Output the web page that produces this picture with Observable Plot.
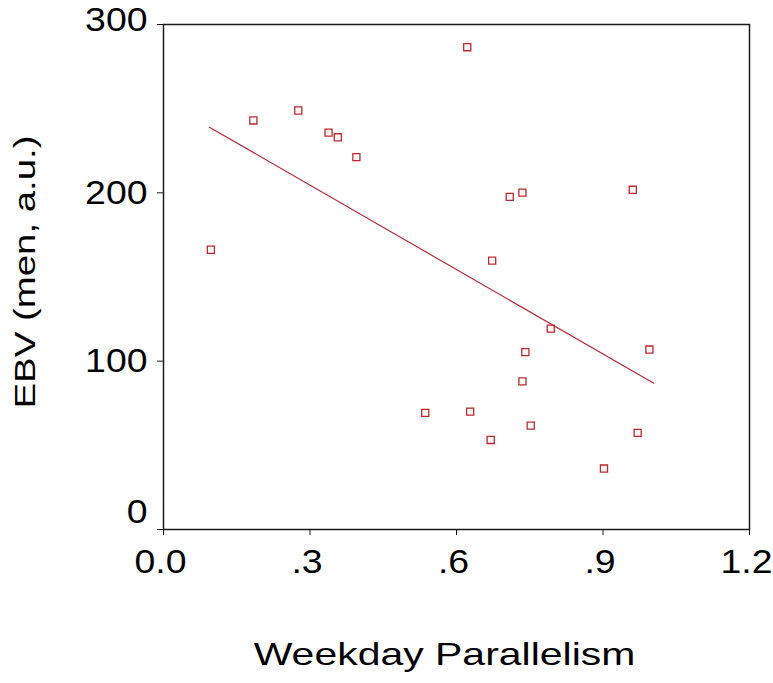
<!DOCTYPE html>
<html><head><meta charset="utf-8">
<script src="https://cdn.jsdelivr.net/npm/d3@7"></script>
<script src="https://cdn.jsdelivr.net/npm/@observablehq/plot@0.6"></script>
<style>body{margin:0;background:#fff}</style>
</head><body><div id="chart"></div>
<script>
const parallelism = [0.097, 0.184, 0.276, 0.338, 0.357, 0.395, 0.622, 0.709, 0.735, 0.961, 0.673, 0.793, 0.741, 0.735, 0.995, 0.536, 0.628, 0.752, 0.670, 0.971, 0.902];
const ebv = [166.2, 243.0, 248.9, 235.8, 233.0, 221.2, 286.5, 197.6, 200.1, 201.8, 159.7, 119.3, 105.4, 88.0, 106.9, 69.3, 70.0, 61.7, 53.2, 57.4, 36.2];
const fitX = [0.094, 1.004];
const fitY = [239.0, 86.9];
const xTicks = [0, 0.3, 0.6, 0.9, 1.2];
const xTickLabels = ["0.0", ".3", ".6", ".9", "1.2"];
const yTicks = [0, 100, 200, 300];
const xLabel = "Weekday Parallelism";
const yLabel = "EBV (men, a.u.)";

const points = parallelism.map((x, i) => ({x, y: ebv[i]}));
const fit = fitX.map((x, i) => ({x, y: fitY[i]}));

const chart = Plot.plot({
  width: 773, height: 683,
  marginLeft: 163, marginRight: 24, marginTop: 24, marginBottom: 154,
  style: {fontFamily: "'Liberation Sans', Arial, sans-serif", background: "#fff", color: "#000"},
  x: {domain: [0, 1.2]},
  y: {domain: [0, 300]},
  marks: [
    Plot.frame({stroke: "#1a1a1a", strokeWidth: 1.5}),
    Plot.axisX({ticks: xTicks, tickFormat: () => "", tickSize: 6, label: null, stroke: "#1a1a1a"}),
    Plot.axisX({ticks: xTicks, tickFormat: d => xTickLabels[xTicks.indexOf(d)], tickSize: 0, tickPadding: 19, fontSize: 34, label: null, fontVariant: "normal", dx: -3}),
    Plot.axisY({ticks: yTicks, tickSize: 6, tickPadding: 10, fontSize: 34, label: null, stroke: "#1a1a1a", fontVariant: "normal",
      tickFormat: d => (d === 0 || d === 300) ? "" : String(d)}),
    Plot.axisY({ticks: [0], tickSize: 0, tickPadding: 16, fontSize: 34, label: null, dy: -17, fontVariant: "normal"}),
    Plot.axisY({ticks: [300], tickSize: 0, tickPadding: 16, fontSize: 34, label: null, dy: -4, fontVariant: "normal"}),
    Plot.line(fit, {x: "x", y: "y", stroke: "#b52a3a", strokeWidth: 1.2}),
    Plot.dot(points, {x: "x", y: "y", symbol: "square", r: 4, stroke: "#c0282d", strokeWidth: 1.3, fill: "none"}),
    Plot.text([xLabel], {text: d => d, frameAnchor: "bottom", dy: 125, dx: -12, fontSize: 32, lineAnchor: "middle", textAnchor: "middle", fill: "#000"}),
    Plot.text([yLabel], {text: d => d, frameAnchor: "left", rotate: -90, dx: -138, dy: -5, fontSize: 30, lineAnchor: "middle", textAnchor: "middle", fill: "#000"})
  ]
});

function stretch(el, sx) {
  const tr = el.getAttribute("transform") || "";
  el.setAttribute("transform", tr + ` scale(${sx},1)`);
}
chart.querySelectorAll('g[aria-label$="tick label"] text').forEach(t => stretch(t, 1.1));
chart.querySelectorAll('g[aria-label="text"] text').forEach(t => stretch(t, 1.28));

document.getElementById("chart").appendChild(chart);
</script>
</body></html>
